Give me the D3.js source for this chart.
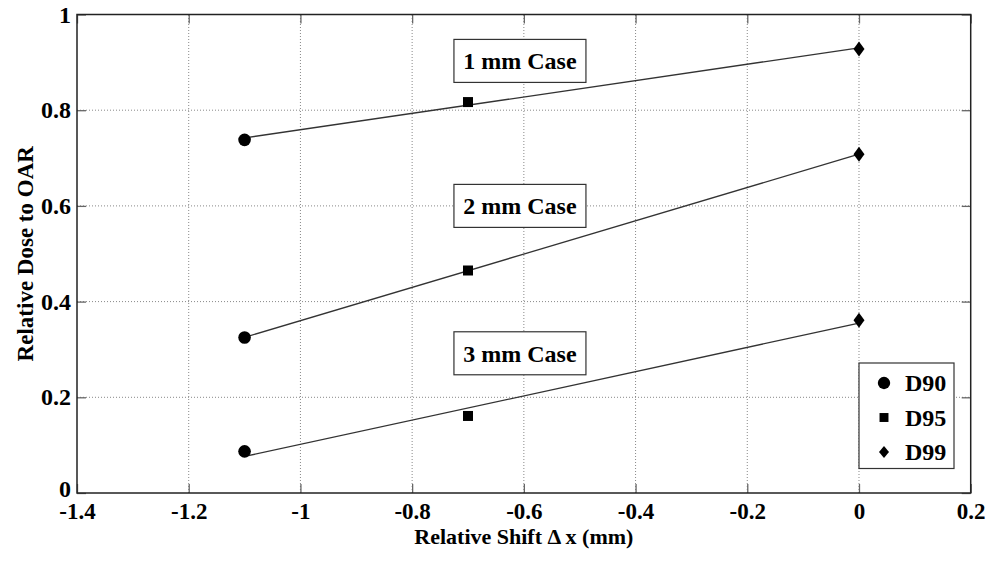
<!DOCTYPE html>
<html>
<head>
<meta charset="utf-8">
<script src="https://cdn.jsdelivr.net/npm/d3@7"></script>
<style>
  body { margin: 0; background: #fff; }
  svg text { font-family: "Liberation Serif", "Times New Roman", Times, serif !important; font-weight: bold; fill: #000; }
</style>
</head>
<body>
<script>
// x positions of the three dose metrics
var metrics = ["D90", "D95", "D99"];
var shifts = [-1.1, -0.7, 0];

// relative dose to OAR per case
var cases = ["1 mm Case", "2 mm Case", "3 mm Case"];
var case1 = [0.738, 0.817, 0.928];
var case2 = [0.325, 0.465, 0.708];
var case3 = [0.087, 0.161, 0.361];

var xTicks = [-1.4, -1.2, -1, -0.8, -0.6, -0.4, -0.2, 0, 0.2];
var yTicks = [0, 0.2, 0.4, 0.6, 0.8, 1];

var W = 989, H = 563;
var m = {left: 77, right: 18.3, top: 14.5, bottom: 70};

var svg = d3.select("body").append("svg")
  .attr("width", W).attr("height", H);

var x = d3.scaleLinear().domain([-1.4, 0.2]).range([m.left, W - m.right]);
var y = d3.scaleLinear().domain([0, 1]).range([H - m.bottom, m.top]);

// grid
svg.append("g").selectAll("line").data(xTicks.slice(1, -1)).enter().append("line")
  .attr("x1", d => x(d)).attr("x2", d => x(d))
  .attr("y1", y(0)).attr("y2", y(1))
  .attr("stroke", "#888").attr("stroke-width", 1).attr("stroke-dasharray", "1,2");
svg.append("g").selectAll("line").data(yTicks.slice(1, -1)).enter().append("line")
  .attr("y1", d => y(d)).attr("y2", d => y(d))
  .attr("x1", x(-1.4)).attr("x2", x(0.2))
  .attr("stroke", "#888").attr("stroke-width", 1).attr("stroke-dasharray", "1,2");

// axes with inward ticks
var fmt = d => String(d);
var xAxis = d3.axisBottom(x).tickValues(xTicks).tickSize(-9).tickPadding(9.5).tickFormat(fmt);
var yAxis = d3.axisLeft(y).tickValues(yTicks).tickSize(-9).tickPadding(6).tickFormat(fmt);

var gx = svg.append("g").attr("transform", "translate(0," + y(0) + ")").call(xAxis);
var gy = svg.append("g").attr("transform", "translate(" + x(-1.4) + ",0)").call(yAxis);
svg.append("g").attr("transform", "translate(0," + y(1) + ")")
  .call(d3.axisTop(x).tickValues(xTicks).tickSize(-9).tickFormat(""));
svg.append("g").attr("transform", "translate(" + x(0.2) + ",0)")
  .call(d3.axisRight(y).tickValues(yTicks).tickSize(-9).tickFormat(""));

svg.selectAll(".domain").remove();
svg.selectAll(".tick line").attr("stroke", "#666").attr("stroke-width", 1.3);
gx.attr("font-size", 23).attr("font-family", null);
gy.attr("font-size", 24).attr("font-family", null);
gy.selectAll("text").attr("dy", "0.32em");
// lift the y "0" a little so it clears the "-1.4" below it
gy.selectAll("text").filter(d => d === 0).attr("dy", "0.15em");

// frame
svg.append("rect")
  .attr("x", x(-1.4)).attr("y", y(1))
  .attr("width", x(0.2) - x(-1.4)).attr("height", y(0) - y(1))
  .attr("fill", "none").attr("stroke", "#222").attr("stroke-width", 1.5);

// axis titles
svg.append("text").attr("x", (x(-1.4) + x(0.2)) / 2).attr("y", 544)
  .attr("text-anchor", "middle").attr("font-size", 22)
  .text("Relative Shift \u0394 x (mm)");
svg.append("text")
  .attr("transform", "translate(33," + (y(0) + y(1)) / 2 + ") rotate(-90)")
  .attr("text-anchor", "middle").attr("font-size", 23)
  .text("Relative Dose to OAR");

// least squares trend lines and markers
var series = [case1, case2, case3];
var symbols = [
  d3.symbol().type(d3.symbolCircle).size(125),
  d3.symbol().type(d3.symbolSquare).size(100),
  null
];
function diamond(w, h) {
  return "M0," + (-h / 2) + "L" + (w / 2) + ",0L0," + (h / 2) + "L" + (-w / 2) + ",0Z";
}

series.forEach(function (vals) {
  var mx = d3.mean(shifts), my = d3.mean(vals);
  var sxy = d3.sum(shifts, (s, i) => (s - mx) * (vals[i] - my));
  var sxx = d3.sum(shifts, s => (s - mx) * (s - mx));
  var b = sxy / sxx, a = my - b * mx;
  var x0 = d3.min(shifts), x1 = d3.max(shifts);
  svg.append("line")
    .attr("x1", x(x0)).attr("y1", y(a + b * x0))
    .attr("x2", x(x1)).attr("y2", y(a + b * x1))
    .attr("stroke", "#333").attr("stroke-width", 1.3);

  svg.append("g").selectAll("path").data(vals).enter().append("path")
    .attr("transform", (d, i) => "translate(" + x(shifts[i]) + "," + y(d) + ")")
    .attr("d", (d, i) => i < 2 ? symbols[i]() : diamond(11, 15))
    .attr("fill", "#000");
});

// case labels
var labelPos = [[-0.607, 0.903], [-0.607, 0.600], [-0.607, 0.292]];
cases.forEach(function (c, i) {
  var cx = x(labelPos[i][0]), cy = y(labelPos[i][1]);
  svg.append("rect").attr("x", cx - 66).attr("y", cy - 21.5)
    .attr("width", 132).attr("height", 43)
    .attr("fill", "#fff").attr("stroke", "#333").attr("stroke-width", 1.2);
  svg.append("text").attr("x", cx).attr("y", cy).attr("dy", "0.35em")
    .attr("text-anchor", "middle").attr("font-size", 24).text(c);
});

// legend
var lg = svg.append("g").attr("transform", "translate(859,363)");
lg.append("rect").attr("width", 95).attr("height", 105.5)
  .attr("fill", "#fff").attr("stroke", "#333").attr("stroke-width", 1.2);
var legendSyms = [
  d3.symbol().type(d3.symbolCircle).size(120)(),
  d3.symbol().type(d3.symbolSquare).size(80)(),
  diamond(10, 12)
];
metrics.forEach(function (d, i) {
  var ry = 20 + i * 34.5;
  lg.append("path").attr("transform", "translate(25," + ry + ")")
    .attr("d", legendSyms[i]).attr("fill", "#000");
  lg.append("text").attr("x", 46).attr("y", ry).attr("dy", "0.35em")
    .attr("font-size", 24).text(d);
});
</script>
</body>
</html>
